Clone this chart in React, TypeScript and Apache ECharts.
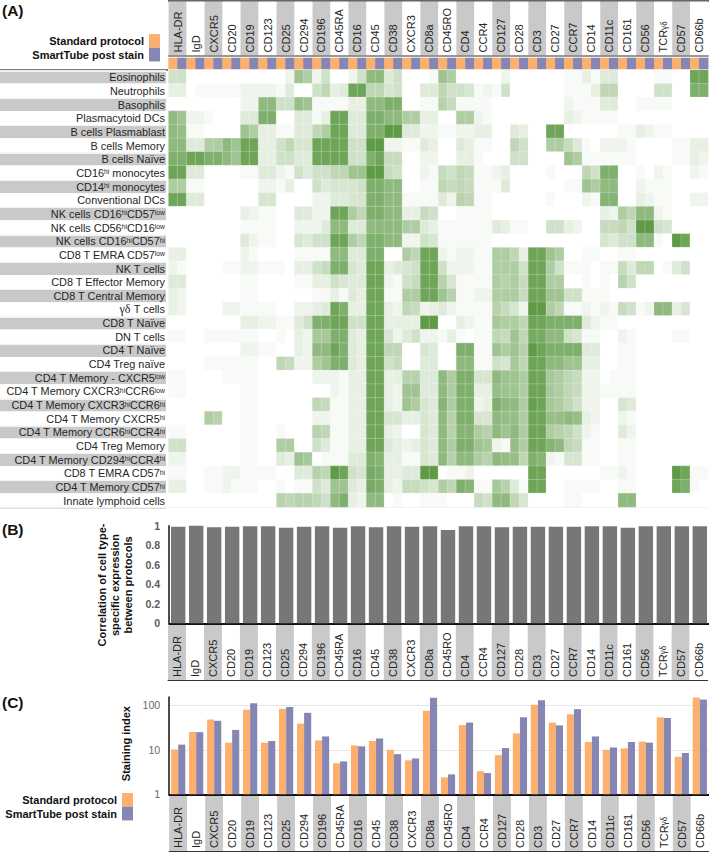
import React, { useEffect, useRef } from "react";
import * as echarts from "echarts";

const markers = ["HLA-DR","IgD","CXCR5","CD20","CD19","CD123","CD25","CD294","CD196","CD45RA","CD16","CD45","CD38","CXCR3","CD8a","CD45RO","CD4","CCR4","CD127","CD28","CD3","CD27","CCR7","CD14","CD11c","CD161","CD56","TCRγδ","CD57","CD66b"];
const cellTypes = ["Eosinophils","Neutrophils","Basophils","Plasmacytoid DCs","B cells Plasmablast","B cells Memory","B cells Naïve","CD16hi monocytes","CD14hi monocytes","Conventional DCs","NK cells CD16hiCD57low","NK cells CD56hiCD16low","NK cells CD16hiCD57hi","CD8 T EMRA CD57low","NK T cells","CD8 T Effector Memory","CD8 T Central Memory","γδ T cells","CD8 T Naïve","DN T cells","CD4 T Naïve","CD4 Treg naïve","CD4 T Memory - CXCR5low","CD4 T Memory CXCR3hiCCR6low","CD4 T Memory CXCR3hiCCR6hi","CD4 T Memory CXCR5hi","CD4 T Memory CCR6hiCCR4hi","CD4 Treg Memory","CD4 T Memory CD294hiCCR4hi","CD8 T EMRA CD57hi","CD4 T Memory CD57hi","Innate lymphoid cells"];
const protocols = ["Standard protocol", "SmartTube post stain"];

// Expression level (0-10) per cell type; each marker has a pair: standard, SmartTube
const expression: number[][] = [
[3,3,0,0,0,0,0,0,0,0,0,0,0,1,6,5,1,3,0,0,1,3,7,7,2,3,0,0,0,.5,6,5,0,0,0,0,0,1,0,0,0,0,0,0,.5,.5,1.5,.5,2,2,0,0,0,0,.5,.5,0,0,9,9],
[1.5,1.5,0,.5,.5,.5,.5,.5,1,1,1,1,.5,2,0,0,3,4,1.5,2,9,9,4,4,2.5,3,0,0,2,2,4,3,3,2.5,.5,1,.5,3,0,0,0,0,0,0,.5,.5,.5,1.5,4,4,0,0,0,0,3,3,0,0,8,8],
[0,0,0,0,0,0,0,0,1,1,7,7,3,3,6.5,6,.5,.5,.5,.5,1.5,1.5,7,7,8,8,0,0,.5,.5,4.5,3.5,.5,.5,.5,.5,0,0,0,0,0,0,0,0,1,.5,.5,.5,2,2,0,0,.5,.5,.5,.5,0,0,0,0],
[7,6,1,1,.5,0,0,0,2,2,8,8,0,0,2,2,.5,1.5,9,9,2,2,8,8,7,7,5,5,1.5,1.5,0,0,5,5,1,.5,0,0,0,0,0,0,0,0,1.5,1,.5,.5,.5,.5,0,0,0,0,0,0,0,0,0,0],
[7,6.5,.5,.5,0,0,0,0,6,5,1.5,1.5,.5,.5,2,2,4,5,9,9,2,2,8,8,10,10,2,2,1,1,.5,.5,1,1,1.5,1.5,0,0,2,1.5,0,0,9,9,0,0,0,0,0,0,.5,.5,1.5,1,.5,.5,0,0,0,0],
[7,7,2,2,5,5,7,6,9,9,1.5,1.5,3,4,2.5,2.5,9,9,9,9,3,3,10,10,1,1,.5,.5,2,1.5,0,0,2,1.5,.5,.5,0,0,4,3,0,0,5,5,3.5,2,.5,0,1,1,1,.5,0,0,0,0,.5,.5,1.5,1.5],
[8,8,9,9,8,8,7,6,9,9,1.5,1.5,3,3,2,2,9,9,9,9,3,3,8,9,3.5,3.5,0,0,1,1,0,0,1.5,1.5,.5,0,0,0,3,3,0,0,0,0,6,5,.5,.5,.5,.5,.5,.5,0,0,0,0,.5,.5,1.5,1],
[9,9,2,2,0,0,0,0,.5,.5,2,2,1,.5,3,2,3,3,4,4,6,6,10,10,3.5,3,0,0,1,.5,3.5,3,4,3.5,.5,.5,1,1.5,0,0,0,0,.5,0,0,0,4,3,8,8,0,0,.5,0,1,.5,0,0,1,.5],
[5,5,.5,.5,0,0,0,0,0,0,1,1,.5,1.5,0,0,3,2,2.5,2.5,2.5,3,8,8,7,7,0,0,.5,.5,4,3.5,4,3.5,.5,.5,.5,2,0,0,0,0,0,0,.5,.5,6,5,7,7,0,0,1,.5,.5,.5,0,0,0,0],
[9,9,2,2,0,0,0,0,0,0,2.5,2.5,0,0,0,0,1,1,2,2,2.5,2.5,8,8,7,7,.5,.5,.5,.5,2,1,4.5,4,.5,.5,0,0,0,0,0,0,.5,0,0,0,1,.5,7.5,7.5,0,0,1.5,1,.5,.5,0,0,1,1],
[0,0,0,0,0,0,0,0,1.5,1,.5,.5,0,0,2,2,1,1,9,9,5,4,8,8,7,7,1.5,1.5,3.5,3,0,0,.5,.5,.5,.5,0,0,0,0,0,0,0,0,0,0,0,0,1.5,1,5,4,7,7,1,.5,0,0,0,0],
[0,0,0,0,0,0,0,0,.5,.5,.5,.5,0,0,1,1,1,2,7,7,2,2,7,7,7,7,5,5,2,1.5,.5,.5,.5,.5,.5,.5,2,1.5,.5,.5,0,0,3,3,1.5,1,0,0,3.5,3.5,4,3,10,10,3,2.5,0,0,0,0],
[0,0,0,0,0,0,0,0,2,1,.5,.5,0,0,2.5,2,3,3,9,9,5,4,8,8,7,7,1,1,3,2.5,.5,.5,.5,.5,.5,.5,0,0,0,0,0,0,0,0,0,0,0,0,2.5,2,3,3,7,7,.5,0,10,9,0,0],
[1.5,1.5,0,0,0,0,0,0,1,.5,0,0,0,0,.5,.5,.5,.5,7,7,2,2,8,8,0,0,5,4,9,9,1,.5,1,1,.5,.5,5,5,4,1.5,9,9,6,5,0,0,.5,.5,0,0,.5,.5,0,0,0,0,0,0,0,0],
[1,.5,0,0,0,0,.5,.5,1,1,.5,.5,.5,0,1.5,1.5,3,3.5,8,8,2.5,2,9,9,1.5,2,2.5,3,9,9,3,1,1,1,.5,.5,5,5,5,3,9,9,5,3,.5,.5,.5,0,.5,.5,3.5,2,4,4,0,.5,2,3,0,0],
[2,2,0,0,0,0,0,0,.5,.5,0,0,0,0,.5,.5,1.5,1.5,3,2.5,2,2,9,9,1,.5,3,3.5,9,9,4.5,2.5,.5,.5,.5,.5,5,4.5,5,3.5,9,9,5,5,0,0,.5,0,.5,0,4.5,3,0,0,0,0,0,0,0,0],
[1.5,1,0,0,0,0,0,0,.5,.5,0,0,0,0,0,0,.5,.5,1.5,.5,2,1.5,9,9,.5,.5,5,5,9,9,6,4.5,.5,.5,1,1,5,5,5,3.5,9,9,6,6,3,3,.5,.5,.5,0,0,0,0,0,0,0,0,0,0,0],
[1.5,1,0,0,0,0,1,1,.5,.5,.5,.5,0,0,1,1,1.5,2,9,8,1.5,1.5,9,9,1.5,1,4,3.5,1,1.5,2,1,.5,.5,.5,.5,4.5,3.5,2.5,1,10,10,5,4,.5,.5,1,.5,1,.5,3.5,3,.5,1,7,7,1.5,2.5,0,0],
[0,0,0,0,0,0,0,0,1.5,1.5,1,1,.5,.5,2,3,8,8,9,9,3,3,9,9,1.5,1.5,1.5,1.5,10,10,0,0,1.5,1,.5,.5,5.5,5,5,4,9,9,8,8,8,8,2,1,.5,.5,0,0,0,0,0,0,0,0,0,0],
[.5,.5,0,0,.5,.5,.5,.5,.5,.5,0,0,.5,0,1.5,1,5.5,5.5,8,8,2,1.5,9,9,2.5,1,2,3,1,1,.5,1.5,.5,0,.5,.5,4,3.5,6,4,8.5,8.5,7,7,3,2.5,.5,.5,0,0,1,.5,0,0,0,0,.5,.5,0,0],
[0,0,0,0,0,0,0,0,1,1,.5,.5,0,0,1.5,1,7,7,9,8,2,1.5,9,9,4,4,0,0,2.5,2,0,0,8,8,.5,.5,6,5,6,4.5,10,9,8,8,8,8,2,2,0,0,.5,.5,0,0,0,0,0,0,0,0],
[0,0,0,0,.5,.5,.5,.5,.5,.5,0,0,4,3.5,1,1,5,6,8,8,2,1.5,9,9,3,3.5,0,0,2,2,0,0,7,7,.5,.5,3,2.5,5.5,4,9,9,7,7,6,6,1.5,1.5,0,0,.5,.5,0,0,0,0,0,0,0,0],
[.5,.5,0,0,0,0,.5,.5,.5,.5,0,0,0,0,0,0,1,1,1,.5,1.5,1.5,9,9,1.5,1.5,4.5,4.5,2,2,7,5,8,8,2.5,2.5,7,6,6,5,9,9,5.5,5,4,3.5,1,1,0,.5,.5,.5,0,0,0,0,0,0,0,0],
[.5,.5,0,0,0,0,0,0,.5,.5,0,0,0,0,0,0,0,0,1,.5,1.5,1.5,9,9,1.5,1,6,6,2,2,7,5,8,8,1.5,1.5,6.5,6,6,5,9,9,5.5,5,4,3.5,1,1,.5,.5,.5,.5,0,0,0,0,0,0,0,0],
[0,0,0,0,0,0,0,0,.5,.5,0,0,0,0,0,0,4,3.5,.5,.5,1.5,1.5,9,9,1.5,1,6,5,2.5,2,7.5,5,8,8,1,1.5,8,7,7,5,9.5,9,5.5,5,4,3,1,1,0,0,2.5,2,0,0,0,0,0,0,0,0],
[0,0,0,0,5,4.5,0,0,.5,.5,0,0,0,0,0,0,1,1,.5,.5,1.5,1.5,9,9,2.5,2.5,1.5,1.5,2.5,2,7,4.5,8,8,2.5,2.5,7,6.5,6.5,5,9,9,6.5,6.5,7,6.5,1.5,1,0,0,1,.5,0,0,0,0,0,0,0,0],
[.5,.5,0,0,0,0,0,0,.5,.5,0,0,.5,0,0,0,4.5,4,.5,.5,1.5,1.5,9,9,1.5,1,0,0,2.5,2,7,4.5,7.5,7.5,5,4.5,7,6,7,5,9,9,5,4.5,4,3,1,.5,0,0,2,1,0,0,0,0,0,0,0,0],
[3,3,0,0,0,0,0,0,.5,.5,0,0,5,5,0,0,3,2,.5,.5,1.5,1.5,9,9,2,1.5,1,1.5,2.5,2,7,5,8,8,6,5.5,1,.5,6.5,5,9,9,7.5,7,4,3.5,.5,.5,0,0,.5,.5,0,0,0,0,0,0,0,0],
[1,1,0,0,0,0,0,0,.5,.5,0,0,2,1.5,6,5.5,0,.5,.5,.5,2,2,8,7.5,1.5,1.5,.5,.5,2.5,2,7,4.5,7,7,5,4.5,7,6.5,6.5,4,8,7.5,1,.5,2.5,2.5,.5,.5,0,0,.5,.5,0,0,0,0,0,0,0,0],
[.5,.5,0,0,.5,.5,1,1,.5,.5,.5,.5,0,0,2,2,4.5,4,10,9,3,2.5,8.5,8,1.5,1.5,2,2,10,10,0,.5,.5,1,0,0,0,0,0,0,9,9,0,0,0,0,0,0,.5,.5,1,.5,0,0,0,0,10,9,.5,.5],
[1.5,1.5,0,0,.5,.5,1,.5,.5,.5,0,0,.5,0,.5,.5,3,2,6,6,2,1.5,8.5,8,1.5,1,3.5,3.5,3,2.5,5,4,8,7.5,.5,.5,5.5,4.5,2,.5,9,9,0,0,.5,.5,.5,.5,0,0,.5,.5,0,0,0,0,9,8,.5,0],
[0,0,0,0,0,0,0,0,0,0,0,0,4.5,4,4.5,4.5,4,3,7,8,1.5,1,7,7,0,.5,0,0,.5,.5,.5,0,0,0,3.5,3,7,7,4,2.5,0,0,0,0,.5,.5,0,0,0,0,7,7,0,0,0,0,0,0,0,0],
];

const correlation = [.99,1,.985,.99,.995,.995,.98,.99,.995,.98,.995,.985,.995,.99,.995,.955,.995,.995,.985,.99,.99,.99,.99,.995,.995,.98,.995,.995,.995,.995];
const stainingStandard = [10.2,25.2,48,14.5,80,14.5,84,39,16.3,5,12.6,15.8,10,5.8,76,2.4,36,3.3,7.6,23.5,103,41,63,15,10,10.8,15.3,54,7,150];
const stainingSmartTube = [13.1,25,45,28,111,15.8,92,68,20,5.5,12,18,8,6.4,148,2.8,41,3,11,54,130,35.5,82,20,11.3,15,14.5,52,8.5,135];
const correlationTicks = { min: 0, max: 1, interval: 0.2 };
const stainingRange = { min: 1, max: 155 };

const FONT = "'Liberation Sans', Arial, sans-serif";
const SERIF = "'Liberation Serif', serif";
const ORANGE = "#fdb06e";
const BLUE = "#8686b4";
const STRIPE = "#c9c9c9";
const TEXT = "#262626";

const LEFT = 168.6;
const PLOT_W = 539.6;

const richStyles = {
  s: { fontFamily: FONT, fontSize: 6.8, verticalAlign: "top", color: TEXT, height: 9, lineHeight: 9 },
  gx: { fontFamily: SERIF, fontSize: 9.5, color: TEXT, verticalAlign: "bottom" },
  gy: { fontFamily: SERIF, fontSize: 12, color: TEXT },
};
const fmtRow = (v: string) => v.replace(/γδ/, "{gy|γδ}").replace(/(\d)(hi|low)/g, "$1{s|$2}");
const fmtMarker = (v: string) => v.replace(/γδ/, "{gx|γδ}");

function markerAxis(gridIndex: number) {
  return {
    type: "category", gridIndex, data: markers, position: "bottom",
    axisLine: { show: true, lineStyle: { color: gridIndex === 2 ? "#777" : "#333", width: gridIndex === 2 ? 1.5 : 1 } },
    axisTick: { show: false },
    axisLabel: { show: true, interval: 0, rotate: 90, inside: true, margin: 3, fontFamily: FONT, fontSize: 11, color: TEXT, formatter: fmtMarker, rich: richStyles },
    splitArea: { show: true, interval: 0, areaStyle: { color: [STRIPE, "#ffffff"] } },
    splitLine: { show: false },
  };
}
const hiddenY = (gridIndex: number) => ({ type: "value", gridIndex, show: false });

function buildOption() {
  const columns = markers.flatMap((m) => protocols.map((p) => `${m} ${p}`));
  const heat: number[][] = [];
  expression.forEach((row, y) => row.forEach((v, x) => heat.push([x, y, v])));
  const strip = columns.map((_, i) => [i, 0, i % 2]);

  const bold = { fontFamily: FONT, fontWeight: "bold", fontSize: 11, color: "#111" };
  const legendBase = {
    orient: "vertical", align: "right", icon: "rect", itemWidth: 11, itemHeight: 13.7, itemGap: 0,
    selectedMode: false, padding: 0, data: protocols, textStyle: bold,
  };

  return {
    animation: false,
    backgroundColor: "#ffffff",
    title: [
      { text: "(A)", left: 2, top: 2 },
      { text: "(B)", left: 2, top: 521 },
      { text: "(C)", left: 2, top: 694 },
    ].map((t) => ({ ...t, padding: 0, textStyle: { fontFamily: FONT, fontWeight: "bold", fontSize: 15.5, color: "#111" } })),
    legend: [
      { ...legendBase, right: 549, top: 34 },
      { ...legendBase, right: 576, top: 793 },
    ],
    grid: [
      { left: LEFT, top: 70, width: PLOT_W, height: 437 },
      { left: LEFT, top: 58, width: PLOT_W, height: 11 },
      { left: LEFT, top: 1.5, width: PLOT_W, height: 54 },
      { left: 0, top: 70.5, width: 166, height: 437 },
      { left: LEFT + 0.6, top: 525.7, width: PLOT_W, height: 97.6 },
      { left: LEFT - 0.6, top: 625, width: PLOT_W, height: 55 },
      { left: LEFT + 0.6, top: 696.9, width: PLOT_W, height: 97.4 },
      { left: LEFT + 0.6, top: 796, width: PLOT_W, height: 55 },
    ],
    xAxis: [
      { type: "category", gridIndex: 0, data: columns, show: false },
      { type: "category", gridIndex: 1, data: columns, show: false },
      markerAxis(2),
      { type: "value", gridIndex: 3, show: false },
      { type: "category", gridIndex: 4, data: markers, axisLabel: { show: false }, axisTick: { show: false }, axisLine: { lineStyle: { color: "#111", width: 2 } } },
      markerAxis(5),
      { type: "category", gridIndex: 6, data: markers, axisLabel: { show: false }, axisTick: { show: false }, axisLine: { lineStyle: { color: "#111", width: 2 } } },
      markerAxis(7),
    ],
    yAxis: [
      { type: "category", gridIndex: 0, data: cellTypes, inverse: true, show: false },
      { type: "category", gridIndex: 1, data: ["protocol"], show: false },
      hiddenY(2),
      {
        type: "category", gridIndex: 3, data: cellTypes, inverse: true, position: "right",
        axisLine: { show: false }, axisTick: { show: false },
        axisLabel: { show: true, interval: 0, inside: true, margin: 1, align: "right", fontFamily: FONT, fontSize: 10.9, color: TEXT, formatter: fmtRow, rich: richStyles },
        splitArea: { show: true, interval: 0, areaStyle: { color: [STRIPE, "#ffffff"] } },
        splitLine: { show: true, interval: 0, lineStyle: { color: "#ffffff", width: 1.6 } },
      },
      {
        type: "value", gridIndex: 4, ...correlationTicks,
        name: "Correlation of cell type-\nspecific expression\nbetween protocols",
        nameLocation: "middle", nameGap: 34, nameRotate: 90,
        nameTextStyle: { ...bold, lineHeight: 13, padding: [0, 21, 0, 0] },
        axisLine: { show: true, lineStyle: { color: "#111", width: 1.5 } }, axisTick: { show: false },
        axisLabel: { fontFamily: FONT, fontSize: 10.6, fontWeight: "bold", color: "#5c5c5c", margin: 9 },
        splitLine: { show: false },
      },
      hiddenY(5),
      {
        type: "log", gridIndex: 6, logBase: 10, ...stainingRange,
        name: "Staining index", nameLocation: "middle", nameGap: 35, nameRotate: 90,
        nameTextStyle: { ...bold, padding: [0, 0, 0, 4] },
        axisLine: { show: true, lineStyle: { color: "#111", width: 1.5 } }, axisTick: { show: false },
        axisLabel: { fontFamily: FONT, fontSize: 10.6, color: "#6a6a6a", margin: 9, showMaxLabel: false, formatter: (v: number) => ([1, 10, 100].includes(Math.round(v)) ? String(Math.round(v)) : "") },
        splitLine: { show: true, showMaxLine: false, showMinLine: false, lineStyle: { color: "#e6e6e6", width: 1 } },
      },
      hiddenY(7),
    ],
    visualMap: [
      { show: false, seriesIndex: 0, dimension: 2, min: 0, max: 10, inRange: { color: ["#ffffff", "#5f9b47"] } },
      { show: false, seriesIndex: 1, dimension: 2, min: 0, max: 1, inRange: { color: [ORANGE, BLUE] } },
    ],
    series: [
      { type: "heatmap", xAxisIndex: 0, yAxisIndex: 0, data: heat, itemStyle: { borderColor: "rgba(255,255,255,0.45)", borderWidth: 0.5 }, silent: true },
      { type: "heatmap", xAxisIndex: 1, yAxisIndex: 1, data: strip, silent: true },
      { type: "bar", name: "Correlation", xAxisIndex: 4, yAxisIndex: 4, data: correlation, barWidth: 14.4, itemStyle: { color: "#777777" }, silent: true },
      { type: "bar", name: protocols[0], xAxisIndex: 6, yAxisIndex: 6, data: stainingStandard, barWidth: 7.1, barGap: 0, itemStyle: { color: ORANGE }, silent: true },
      { type: "bar", name: protocols[1], xAxisIndex: 6, yAxisIndex: 6, data: stainingSmartTube, barWidth: 7.1, barGap: 0, itemStyle: { color: BLUE }, silent: true },
    ],
    graphic: [
      { type: "line", shape: { x1: 168, y1: 1, x2: 709, y2: 1 }, style: { stroke: "#333", lineWidth: 1.5 }, silent: true },
      { type: "line", shape: { x1: 0, y1: 70, x2: 168, y2: 70 }, style: { stroke: "#555", lineWidth: 1.5 }, silent: true },
      { type: "line", shape: { x1: 0, y1: 508, x2: 166, y2: 508 }, style: { stroke: "#555", lineWidth: 1.5 }, silent: true },
      { type: "line", shape: { x1: 168, y1: 507.5, x2: 708, y2: 507.5 }, style: { stroke: "#eeeeee", lineWidth: 1 }, silent: true },
    ],
  };
}

export default function App() {
  const ref = useRef<HTMLDivElement>(null);
  useEffect(() => {
    if (!ref.current) return;
    const chart = echarts.init(ref.current, undefined, { renderer: "svg" });
    chart.setOption(buildOption() as any);
    return () => chart.dispose();
  }, []);
  return <div ref={ref} style={{ position: "absolute", left: 0, top: 0, width: 709, height: 852 }} />;
}
